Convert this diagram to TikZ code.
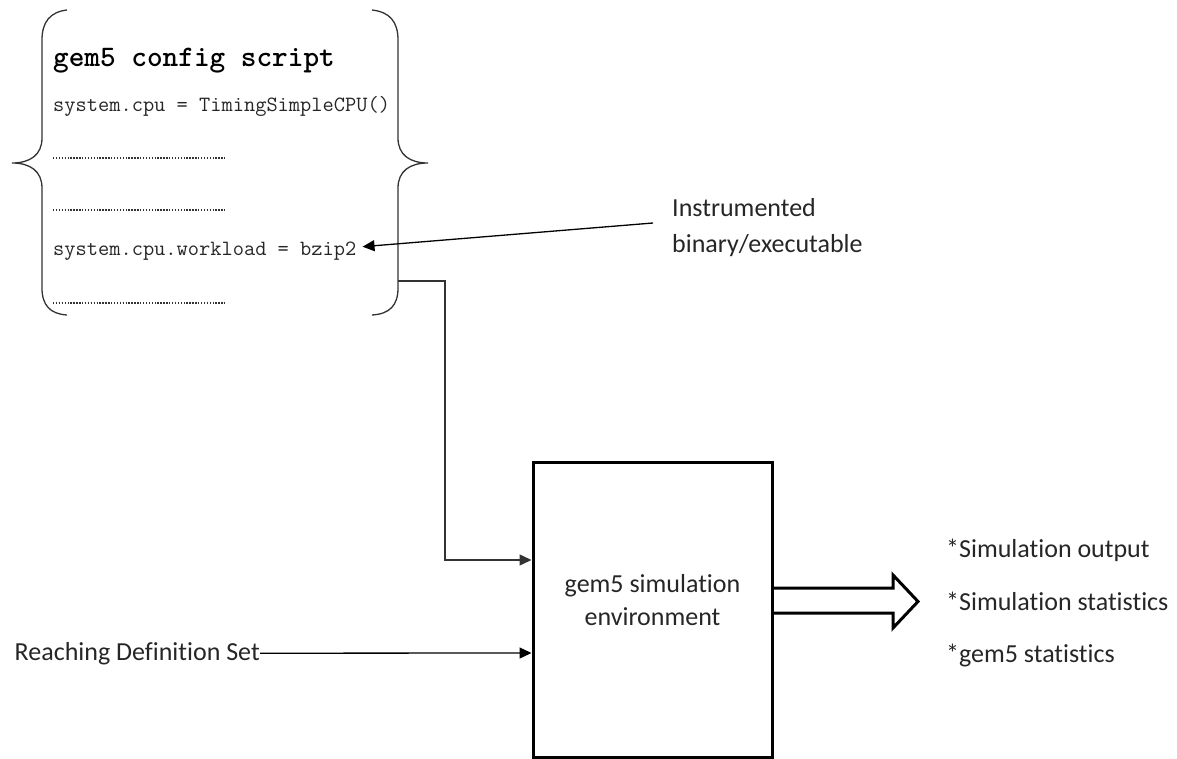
\documentclass[tikz,border=0pt]{standalone}
\usepackage{fontspec}
\setmainfont{Carlito}[Ligatures=NoCommon]
\newfontfamily\codefont{Latin Modern Mono}
\newfontfamily\titlefont{Latin Modern Mono Light}
\usetikzlibrary{arrows.meta,calc}
\begin{document}
\begin{tikzpicture}[x=1pt,y=-1pt,
  txt/.style={inner sep=0pt, text=black!85, font=\fontsize{26}{34}\selectfont},
  code/.style={inner sep=0pt, text=black!85, font=\codefont\fontsize{21.8}{26}\selectfont},
  ttl/.style={inner sep=0pt, text=black, font=\titlefont\bfseries\fontsize{29.8}{34}\selectfont},
  brace/.style={line width=1.3pt, black!80},
  dots/.style={line width=1.8pt, black!80, dash pattern=on 1.4pt off 1.5pt},
  conn/.style={line width=1.3pt, -{Triangle[length=12pt,width=11pt]}},
  simbox/.style={draw, line width=3pt, minimum width=239pt, minimum height=295pt, inner sep=0pt}]
\useasboundingbox (0,0) rectangle (1177,759);

% config script
\node[ttl, anchor=base west] (title) at (53,67) {gem5 config script};
\node[code, anchor=base west] (cpu) at (53,112) {system.cpu = TimingSimpleCPU()};
\node[code, anchor=base west] (bzip) at (53,255) {system.cpu.workload = bzip2};
\draw[dots] (53,158) -- (225,158);
\draw[dots] (53,210) -- (225,210);
\draw[dots] (53,303) -- (225,303);

% braces
\draw[brace] (67,10) .. controls (50,12) and (42,22) .. (42,40) -- (42,138)
  .. controls (42,155) and (30,163) .. (12,163)
  .. controls (30,163) and (42,171) .. (42,188) -- (42,288)
  .. controls (42,305) and (50,314) .. (67,315);
\draw[brace] (372,10) .. controls (390,12) and (398,22) .. (398,40) -- (398,138)
  .. controls (398,155) and (410,163) .. (428,163)
  .. controls (410,163) and (398,171) .. (398,188) -- (398,288)
  .. controls (398,305) and (390,314) .. (372,315);
\coordinate (cfgout) at (398,281);

% instrumented binary
\node[txt, anchor=base west] (instr1) at (672,217) {Instrumented};
\node[txt, anchor=base west] (instr2) at (672,252) {binary/executable};
\draw[conn] ([xshift=-19pt,yshift=-6pt]instr1.base west) -- ([xshift=6pt,yshift=4pt]bzip.east);

% simulation box
\node[simbox] (sim) at (652.5,609.5) {};
\node[txt, anchor=base] (simtxt1) at (652.5,592) {gem5 simulation};
\node[txt, anchor=base] (simtxt2) at (652.5,625) {environment};

% inputs
\draw[conn, black!80] (cfgout) -- (445,281) |- ([yshift=49.5pt]sim.west);
\node[txt, anchor=base east] (rds) at (260,660) {Reaching Definition Set};
\draw[conn] (rds.east) -- ([yshift=-43.5pt]sim.west);

% output
\draw[line width=3pt, line join=miter] (sim.east |- 0,588) -- (893,588) -- (893,575) -- (918,601.5) -- (893,628) -- (893,613) -- (sim.east |- 0,613);
\node[txt, anchor=base west] (out1) at (946,557) {*Simulation output};
\node[txt, anchor=base west] (out2) at (946,610) {*Simulation statistics};
\node[txt, anchor=base west] (out3) at (946,662) {*gem5 statistics};
\end{tikzpicture}
\end{document}
